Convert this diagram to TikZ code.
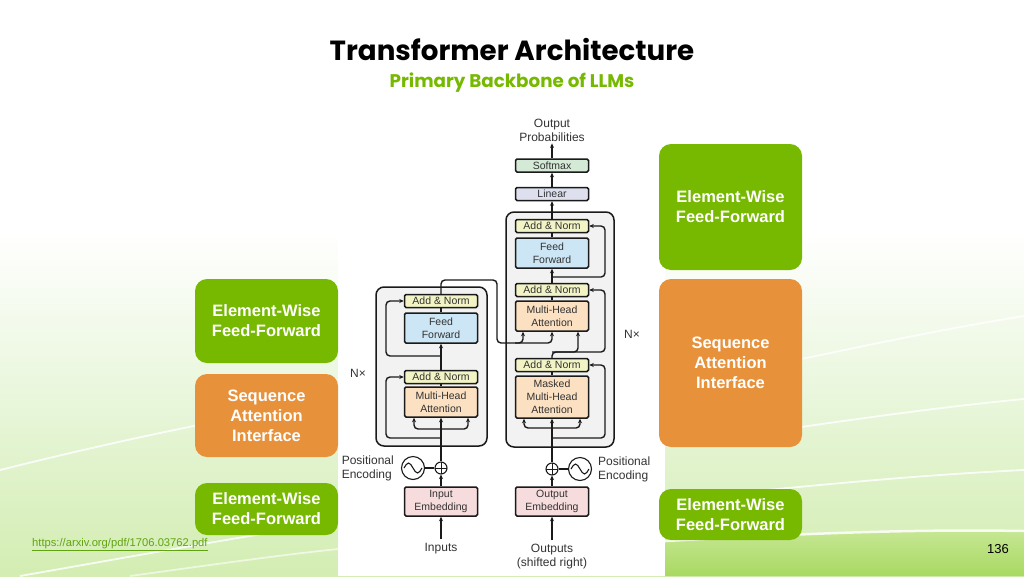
\documentclass[tikz,border=0pt]{standalone}
\usepackage{fontspec}
\setmainfont{Liberation Sans}
\newfontfamily\titlefont{Poppins}
\usetikzlibrary{arrows.meta, calc}
\definecolor{nvgreen}{HTML}{76B900}
\definecolor{nvorange}{HTML}{E8913B}
\definecolor{linecol}{HTML}{1A1A1A}
\definecolor{txtgray}{HTML}{333333}
\definecolor{blockgray}{HTML}{F2F2F2}
\definecolor{annorm}{HTML}{F2F4C6}
\definecolor{ffblue}{HTML}{CDE6F5}
\definecolor{attorange}{HTML}{FBE0C2}
\definecolor{embpink}{HTML}{F6DCDC}
\definecolor{linlav}{HTML}{DEE0EF}
\definecolor{softmint}{HTML}{D4EAD6}
\definecolor{bgbottom}{HTML}{D3EDB2}
\definecolor{bgmid}{HTML}{E8F6DA}
\definecolor{bandtop}{HTML}{C6E795}
\definecolor{bandbottom}{HTML}{A9D961}
\definecolor{linkgreen}{HTML}{62A312}
\pgfdeclareverticalshading{bgshade}{100bp}{color(0bp)=(bgbottom); color(25bp)=(bgbottom); color(40bp)=(bgmid); color(55bp)=(white); color(100bp)=(white)}

\begin{document}
\begin{tikzpicture}[x=1pt, y=-1pt]
\tikzstyle{every node}+=[inner sep=0pt]
\tikzstyle{box}=[draw=linecol, line width=1.5pt, rounded corners=1.5pt, minimum width=73pt, text=txtgray, font=\fontsize{10.5}{13}\selectfont, align=center]
\tikzstyle{addnorm}=[box, fill=annorm, minimum height=13pt]
\tikzstyle{ffwd}=[box, fill=ffblue, minimum height=30pt]
\tikzstyle{attn}=[box, fill=attorange, minimum height=30pt]
\tikzstyle{embed}=[box, fill=embpink, minimum height=29pt]
\tikzstyle{stack}=[draw=linecol, fill=blockgray, line width=1.5pt, rounded corners=8pt]
\tikzstyle{plusnode}=[circle, draw=linecol, fill=white, line width=1.1pt, minimum size=12pt, path picture={\draw[linecol, line width=1pt] (path picture bounding box.north) -- (path picture bounding box.south) (path picture bounding box.west) -- (path picture bounding box.east);}]
\tikzstyle{posenc}=[circle, draw=linecol, line width=1.1pt, minimum size=23pt]
\tikzstyle{conn}=[draw=linecol, line width=1.4pt]
\tikzstyle{arr}=[conn, -{Stealth[length=4.5pt, width=4pt]}]
\tikzstyle{dtext}=[text=txtgray, font=\fontsize{12}{14}\selectfont, align=center]
\tikzstyle{sidetag}=[rounded corners=12pt, minimum width=143pt, text=white, align=center, font=\bfseries\fontsize{16.5}{20}\selectfont]
\tikzstyle{streak}=[white, line width=1.8pt, opacity=0.85]
\useasboundingbox (0,0) rectangle (1024,576);
\shade[shading=bgshade] (0,0) rectangle (1024,576);
\shade[top color=bandtop, bottom color=bandbottom] (665,541) .. controls (800,534) and (900,529) .. (1024,531) -- (1024,576) -- (665,576) -- cycle;
\draw[streak] (665,386) .. controls (800,361) and (900,336) .. (1024,316);
\draw[streak] (665,446) .. controls (800,428) and (900,411) .. (1024,399);
\draw[streak] (665,500) .. controls (800,487) and (900,476) .. (1024,470);
\draw[streak, line width=2.5pt] (665,541) .. controls (800,534) and (900,529) .. (1024,531);
\draw[streak] (0,470) .. controls (120,440) and (240,415) .. (338,400);
\draw[streak] (20,576) .. controls (140,555) and (250,535) .. (338,522);
\draw[streak, opacity=0.6] (130,576) .. controls (210,565) and (280,555) .. (338,549);
\fill[white] (338,100) rectangle (665,576);

\node[font=\titlefont\bfseries\fontsize{27.7}{32}\selectfont, anchor=base] (title) at (512,60) {Transformer Architecture};
\node[font=\titlefont\bfseries\fontsize{18.3}{22}\selectfont, text=nvgreen, anchor=base] (subtitle) at (512,87) {Primary Backbone of LLMs};

\node[stack, minimum width=111pt, minimum height=159pt] (encStack) at (431.5,366.5) {};
\node[stack, minimum width=108pt, minimum height=235pt] (decStack) at (560,329.5) {};

\node[embed] (inEmb) at (441,501.5) {Input\\Embedding};
\node[plusnode] (encPlus) at (441,468) {};
\node[posenc] (encPE) at (413,468) {};
\node[attn] (encMHA) at (441,402) {Multi-Head\\Attention};
\node[addnorm] (encAN1) at (441,377) {Add \& Norm};
\node[ffwd] (encFF) at (441,328) {Feed\\Forward};
\node[addnorm] (encAN2) at (441,301) {Add \& Norm};
\node[dtext] (inputs) at (441,549) {Inputs};
\node[dtext, align=left, anchor=east] (encPEtext) at (394,468) {Positional\\Encoding};
\node[dtext] (encN) at (358,373) {N×};

\node[embed] (outEmb) at (552,501.5) {Output\\Embedding};
\node[plusnode] (decPlus) at (552,469) {};
\node[posenc] (decPE) at (580,469) {};
\node[box, fill=attorange, minimum height=42pt] (decMMHA) at (552,397) {Masked\\Multi-Head\\Attention};
\node[addnorm] (decAN1) at (552,365) {Add \& Norm};
\node[attn] (decMHA) at (552,316) {Multi-Head\\Attention};
\node[addnorm] (decAN2) at (552,290) {Add \& Norm};
\node[ffwd] (decFF) at (552,253) {Feed\\Forward};
\node[addnorm] (decAN3) at (552,226) {Add \& Norm};
\node[box, fill=linlav, minimum height=13pt] (linear) at (552,194) {Linear};
\node[box, fill=softmint, minimum height=13pt] (softmax) at (552,165.5) {Softmax};
\node[dtext] (outProb) at (552,130) {Output\\Probabilities};
\node[dtext] (outputs) at (552,557) {Outputs\\(shifted right)};
\node[dtext, align=left, anchor=west] (decPEtext) at (598,469) {Positional\\Encoding};
\node[dtext] (decN) at (632,334) {N×};

\coordinate (encFork) at (441,429);
\coordinate (encRes1) at (441,438);
\coordinate (encRes2) at (441,356);
\coordinate (decFork) at (552,428);
\coordinate (decRes1) at (552,438);
\coordinate (decRes2) at (552,352);
\coordinate (decRes3) at (552,277);

\draw[conn, line width=1.1pt] ($(encPE)+(-9,0)$) sin ++(4.5,-5) cos ++(4.5,5) sin ++(4.5,5) cos ++(4.5,-5);
\draw[conn, line width=1.1pt] ($(decPE)+(-9,0)$) sin ++(4.5,-5) cos ++(4.5,5) sin ++(4.5,5) cos ++(4.5,-5);

\draw[arr, shorten <=4pt] (inputs) -- (inEmb);
\draw[arr] (inEmb) -- (encPlus);
\draw[conn] (encPE) -- (encPlus);
\draw[arr] (encPlus) -- (encMHA);
\draw[arr, rounded corners=4pt] (encFork) -| ([xshift=-27pt]encMHA.south);
\draw[arr, rounded corners=4pt] (encFork) -| ([xshift=27pt]encMHA.south);
\draw[arr, rounded corners=4pt] (encRes1) -- ++(-55,0) |- (encAN1.west);
\draw[conn] (encMHA) -- (encAN1);
\draw[arr] (encAN1) -- (encFF);
\draw[arr, rounded corners=4pt] (encRes2) -- ++(-55,0) |- (encAN2.west);
\draw[conn] (encFF) -- (encAN2);
\draw[arr, rounded corners=4pt] (encAN2.north) -- (441,280) -- (497,280) -- (497,343) -| ([xshift=-29pt]decMHA.south);
\draw[arr, rounded corners=4pt] (515,343) -| (decMHA.south);

\draw[arr, shorten <=4pt] (outputs) -- (outEmb);
\draw[arr] (outEmb) -- (decPlus);
\draw[conn] (decPE) -- (decPlus);
\draw[arr] (decPlus) -- (decMMHA);
\draw[arr, rounded corners=4pt] (decFork) -| ([xshift=-28pt]decMMHA.south);
\draw[arr, rounded corners=4pt] (decFork) -| ([xshift=28pt]decMMHA.south);
\draw[arr, rounded corners=4pt] (decRes1) -- ++(53,0) |- (decAN1.east);
\draw[conn] (decMMHA) -- (decAN1);
\draw[arr, rounded corners=4pt] (decAN1.north) -- (decRes2) -| ([xshift=26pt]decMHA.south);
\draw[arr, rounded corners=4pt] (decRes2) -- ++(53,0) |- (decAN2.east);
\draw[conn] (decMHA) -- (decAN2);
\draw[arr] (decAN2) -- (decFF);
\draw[arr, rounded corners=4pt] (decRes3) -- ++(53,0) |- (decAN3.east);
\draw[conn] (decFF) -- (decAN3);
\draw[arr] (decAN3) -- (linear);
\draw[arr] (linear) -- (softmax);
\draw[arr, shorten >=2pt] (softmax) -- (outProb);

\node[sidetag, fill=nvgreen, minimum height=84pt] (ewLeftA) at (266.5,321) {Element-Wise\\Feed-Forward};
\node[sidetag, fill=nvorange, minimum height=83pt] (saLeft) at (266.5,415.5) {Sequence\\Attention\\Interface};
\node[sidetag, fill=nvgreen, minimum height=52pt] (ewLeftB) at (266.5,509) {Element-Wise\\Feed-Forward};
\node[sidetag, fill=nvgreen, minimum height=126pt] (ewRightA) at (730.5,207) {Element-Wise\\Feed-Forward};
\node[sidetag, fill=nvorange, minimum height=168pt] (saRight) at (730.5,363) {Sequence\\Attention\\Interface};
\node[sidetag, fill=nvgreen, minimum height=51pt] (ewRightB) at (730.5,514.5) {Element-Wise\\Feed-Forward};

\node[text=linkgreen, font=\fontsize{11.2}{13}\selectfont, anchor=west] (link) at (32,545) {\underline{https://arxiv.org/pdf/1706.03762.pdf}};
\node[font=\fontsize{13}{15}\selectfont] (pageno) at (998,549.5) {136};
\end{tikzpicture}
\end{document}
